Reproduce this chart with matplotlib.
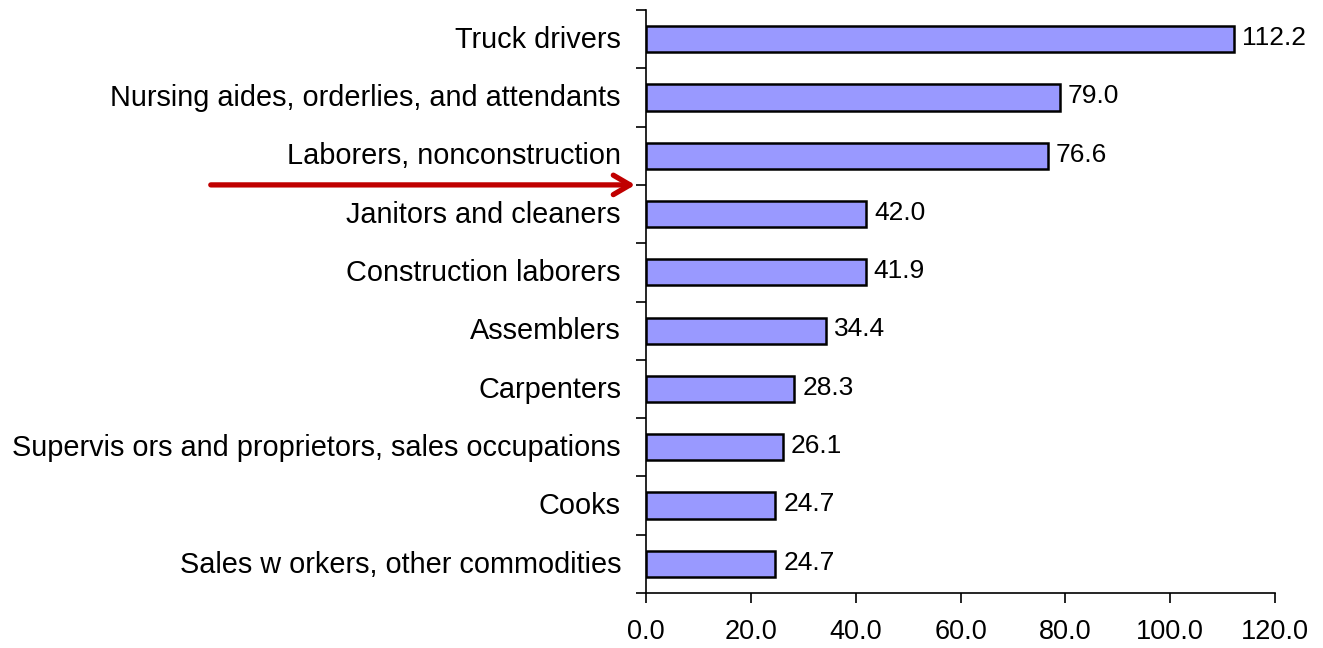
import matplotlib.pyplot as plt
from matplotlib.transforms import blended_transform_factory
import numpy as np

plt.rcParams['font.family'] = ['Liberation Sans', 'DejaVu Sans']

occupations = [
    "Truck drivers",
    "Nursing aides, orderlies, and attendants",
    "Laborers, nonconstruction",
    "Janitors and cleaners",
    "Construction laborers",
    "Assemblers",
    "Carpenters",
    "Supervis ors and proprietors, sales occupations",
    "Cooks",
    "Sales w orkers, other commodities",
]
values = [112.2, 79.0, 76.6, 42.0, 41.9, 34.4, 28.3, 26.1, 24.7, 24.7]
x_ticks = [0, 20, 40, 60, 80, 100, 120]

fig = plt.figure(figsize=(13.23, 6.48), dpi=100)
ax = fig.add_axes([646/1323, 1 - 593/648, (1275 - 646)/1323, (593 - 10)/648])

y = np.arange(len(occupations))
ax.barh(y, values, height=0.45, color='#9999FF', edgecolor='black', linewidth=1.8)
ax.set_ylim(len(occupations) - 0.5, -0.5)
ax.set_xlim(0, 120)

for yi, v in zip(y, values):
    ax.text(v + 1.5, yi - 0.02, "%.1f" % v, va='center', ha='left', fontsize=19)

# category labels centred on bars, tick marks between them
ax.set_yticks(np.arange(-0.5, len(occupations)), labels=[])
ax.set_yticks(y - 0.04, labels=occupations, minor=True)
ax.tick_params(axis='y', which='major', length=7, width=1.2, direction='out')
ax.tick_params(axis='y', which='minor', length=0, pad=18, labelsize=20.8)

ax.set_xticks(x_ticks, labels=["%.1f" % t for t in x_ticks])
ax.tick_params(axis='x', length=7, width=1.2, direction='out', pad=12, labelsize=19.5)

for s in ['top', 'right']:
    ax.spines[s].set_visible(False)
for s in ['left', 'bottom']:
    ax.spines[s].set_linewidth(1.2)

# red arrow pointing at the gap between Laborers and Janitors
trans = blended_transform_factory(fig.transFigure, ax.transData)
ax.annotate('', xy=(638/1323, 2.5), xycoords=trans,
            xytext=(208/1323, 2.5), textcoords=trans,
            arrowprops=dict(arrowstyle='->,head_length=1.2,head_width=0.7',
                            color='#C00000', lw=3.8),
            annotation_clip=False)

fig.savefig('out.png', dpi=100)
